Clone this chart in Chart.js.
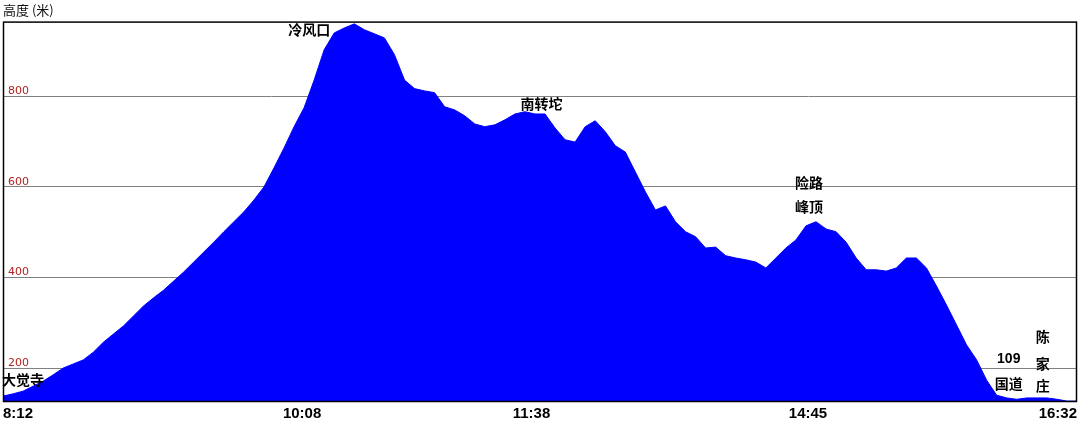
<!DOCTYPE html>
<html>
<head>
<meta charset="utf-8">
<title>高度</title>
<script src="https://cdn.jsdelivr.net/npm/chart.js"></script>
<style>
    body { margin: 0; background: #ffffff; }
    #wrap { width: 1080px; height: 425px; }
</style>
</head>
<body>
<div id="wrap"><canvas id="profileChart" width="1080" height="425"></canvas></div>
<script>
// elevation (m), sampled at equal steps along the route
var heights = [
    138, 143, 149, 160, 171, 185, 200, 209, 218, 235,
    257, 275, 293, 315, 337, 355, 372, 392, 412, 434,
    456, 478, 501, 523, 545, 571, 600, 642, 686, 733,
    775, 836, 903, 940, 951, 960, 947, 938, 929, 892,
    836, 817, 812, 808, 777, 770, 757, 739, 733, 737,
    748, 761, 766, 761, 761, 730, 704, 699, 733, 746,
    722, 691, 677, 633, 589, 549, 558, 523, 501, 490,
    465, 467, 448, 443, 439, 434, 421, 443, 465, 483,
    514, 523, 507, 501, 478, 443, 417, 417, 414, 421,
    443, 443, 421, 381, 339, 295, 251, 218, 173, 140,
    134, 131, 134, 134, 134, 131, 127, 127
];

// time marks along the route (position = sample index)
var xTickPos = [0, 29.8, 52.65, 80.2, 107];
var xTickLabels = ["8:12", "10:08", "11:38", "14:45", "16:32"];

var yTicks = [200, 400, 600, 800];

// place names written on the profile
var placeNames = ["大觉寺", "冷风口", "南转坨", "险路", "峰顶", "109", "国道", "陈", "家", "庄"];
var placeX = [2.0, 30.5, 53.65, 80.3, 80.3, 100.2, 100.2, 103.6, 103.6, 103.6];
var placeY = [171, 943, 780, 607, 554, 220, 162, 267, 207, 157];

window.addEventListener('load', function () {

    var points = [];
    for (var i = 0; i < heights.length; i++) {
        points.push({ x: i, y: heights[i] });
    }

    // black frame round the plot and the place names
    var profileExtras = {
        id: 'profileExtras',
        afterDatasetsDraw: function (chart) {
            var ctx = chart.ctx;
            var area = chart.chartArea;
            var xs = chart.scales.x;
            var ys = chart.scales.y;
            ctx.save();
            ctx.strokeStyle = '#000000';
            ctx.lineWidth = 1.5;
            ctx.strokeRect(area.left + 0.5, area.top + 0.5, area.right - area.left - 1, area.bottom - area.top - 1);

            ctx.fillStyle = '#000000';
            ctx.font = 'bold 14px "Liberation Sans", "Noto Sans CJK SC", sans-serif';
            ctx.textAlign = 'center';
            ctx.textBaseline = 'middle';
            for (var k = 0; k < placeNames.length; k++) {
                ctx.fillText(placeNames[k], xs.getPixelForValue(placeX[k]), ys.getPixelForValue(placeY[k]));
            }
            ctx.restore();
        }
    };

    new Chart("profileChart", {
        type: "line",
        data: {
            datasets: [{
                data: points,
                backgroundColor: "#0000ff",
                borderColor: "#0000ff",
                borderWidth: 1,
                pointRadius: 0,
                tension: 0,
                fill: "start"
            }]
        },
        options: {
            responsive: false,
            animation: false,
            layout: {
                padding: { left: 3, right: 3, top: 0, bottom: 0 }
            },
            plugins: {
                legend: { display: false },
                tooltip: { enabled: false },
                title: {
                    display: true,
                    text: "高度 (米)",
                    align: "start",
                    color: "#111111",
                    font: { family: '"Noto Sans CJK SC", "DejaVu Sans", sans-serif', size: 13, weight: 'normal' },
                    padding: { top: 2, bottom: 4 }
                }
            },
            scales: {
                x: {
                    type: "linear",
                    min: 0,
                    max: heights.length - 1,
                    grid: { display: false, drawTicks: false },
                    border: { display: false },
                    afterBuildTicks: function (scale) {
                        scale.ticks = xTickPos.map(function (v) { return { value: v }; });
                    },
                    afterFit: function (scale) {
                        scale.height = 23;
                    },
                    ticks: {
                        autoSkip: false,
                        maxRotation: 0,
                        align: "inner",
                        padding: 3,
                        color: "#000000",
                        font: { family: '"Liberation Sans", sans-serif', size: 15, weight: 'bold' },
                        callback: function (value, index) {
                            return xTickLabels[index];
                        }
                    }
                },
                y: {
                    min: 125,
                    max: 965,
                    grid: { color: "#808080", lineWidth: 1, drawTicks: false },
                    border: { display: false },
                    afterBuildTicks: function (scale) {
                        scale.ticks = yTicks.map(function (v) { return { value: v }; });
                    },
                    afterFit: function (scale) {
                        scale.width = 0;
                    },
                    ticks: {
                        mirror: true,
                        padding: 5,
                        labelOffset: -5,
                        color: "#b22222",
                        font: { family: '"DejaVu Sans", sans-serif', size: 11 }
                    }
                }
            }
        },
        plugins: [profileExtras]
    });
});
</script>
</body>
</html>
